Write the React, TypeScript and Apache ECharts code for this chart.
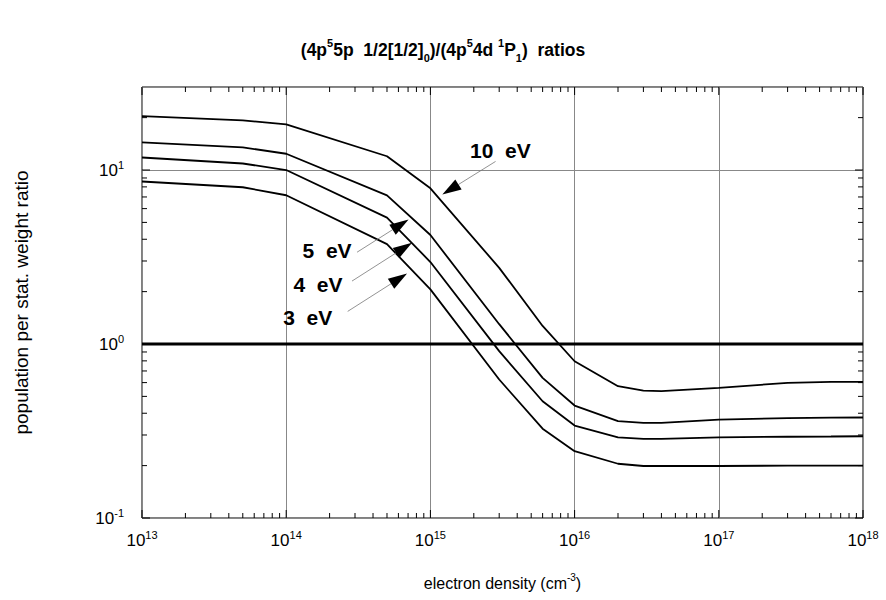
import React, { useEffect, useRef } from 'react';
import * as echarts from 'echarts';

// electron density (cm^-3)
const density = [1e13, 5e13, 1e14, 5e14, 1e15, 3e15, 6e15, 1e16, 2e16, 3e16, 4e16, 1e17, 3e17, 6e17, 1e18];
// population per stat. weight ratio for each temperature
const ratio10eV = [20.4, 19.3, 18.3, 12.0, 7.85, 2.74, 1.27, 0.796, 0.572, 0.540, 0.536, 0.560, 0.598, 0.606, 0.606];
const ratio5eV = [14.4, 13.5, 12.4, 7.15, 4.23, 1.30, 0.639, 0.443, 0.360, 0.352, 0.352, 0.368, 0.375, 0.377, 0.378];
const ratio4eV = [11.8, 10.9, 10.0, 5.33, 2.96, 0.91, 0.469, 0.340, 0.291, 0.285, 0.285, 0.291, 0.293, 0.294, 0.295];
const ratio3eV = [8.59, 7.96, 7.16, 3.75, 2.06, 0.625, 0.326, 0.242, 0.205, 0.199, 0.199, 0.199, 0.200, 0.200, 0.200];
const seriesNames = ['10 eV', '5 eV', '4 eV', '3 eV'];
const referenceRatio = 1;

const xRange = [1e13, 1e18];
const yRange = [0.1, 30];
const xDecades = [13, 14, 15, 16, 17, 18];
const yDecades = [-1, 0, 1];
const minorMultipliers = [2, 3, 4, 5, 6, 7, 8, 9];

// annotation label / arrow anchors in data coordinates
const annotationLabels = ['10  eV', '5  eV', '4  eV', '3  eV'];
const annotationText = [[3.06e15, 12.9], [1.92e14, 3.45], [1.66e14, 2.2], [1.41e14, 1.42]];
const annotationFrom = [[2.83e15, 11.2], [3.1e14, 3.37], [2.86e14, 2.3], [2.67e14, 1.54]];
const annotationTo = [[1.21e15, 7.23], [7.06e14, 5.19], [7.46e14, 3.82], [6.89e14, 2.54]];

const FONT = '"Liberation Sans", Arial, Helvetica, sans-serif';

export default function App() {
  const ref = useRef<HTMLDivElement>(null);
  useEffect(() => {
    if (!ref.current) return;
    const chart = echarts.init(ref.current, undefined, { renderer: 'svg' });
    const allRatios = [ratio10eV, ratio5eV, ratio4eV, ratio3eV];
    const supLabel = (v: number) => {
      const e = Math.round(Math.log10(v));
      return `{b|10}{s|${e}}`;
    };
    const labelRich = {
      b: { fontSize: 17, fontFamily: FONT, color: '#000', lineHeight: 22 },
      s: { fontSize: 11, fontFamily: FONT, color: '#000', lineHeight: 11, verticalAlign: 'top' },
    };
    chart.setOption({
      animation: false,
      backgroundColor: '#fff',
      title: {
        text: '{n|(4p}{sup|5}{n|5p  1/2[1/2]}{sub|0}{n|)/(4p}{sup|5}{n|4d }{sup|1}{n|P}{sub|1}{n|)  ratios}',
        left: 'center',
        top: 32,
        textStyle: {
          fontSize: 17.5,
          fontWeight: 'bold',
          fontFamily: FONT,
          color: '#000',
          rich: {
            n: { fontSize: 17.5, fontWeight: 'bold', fontFamily: FONT, color: '#000', lineHeight: 26 },
            sup: { fontSize: 11, fontWeight: 'bold', fontFamily: FONT, color: '#000', lineHeight: 11, verticalAlign: 'top' },
            sub: { fontSize: 11, fontWeight: 'bold', fontFamily: FONT, color: '#000', lineHeight: 11, verticalAlign: 'bottom' },
          },
        },
      },
      grid: { left: 142, right: 23, top: 87, bottom: 82, show: true, borderColor: '#000', borderWidth: 1, backgroundColor: 'transparent' },
      xAxis: {
        type: 'log',
        logBase: 10,
        min: xRange[0],
        max: xRange[1],
        axisLine: { show: false },
        axisTick: { show: false },
        splitLine: { show: true, lineStyle: { color: '#888', width: 1 } },
        axisLabel: { margin: 11, fontSize: 17, fontFamily: FONT, color: '#000', formatter: supLabel, rich: labelRich },
        name: '{n|electron density (cm}{s|-3}{n|)}',
        nameLocation: 'middle',
        nameGap: 54,
        nameTextStyle: {
          fontSize: 16,
          fontFamily: FONT,
          color: '#000',
          rich: {
            n: { fontSize: 16, fontFamily: FONT, color: '#000', lineHeight: 22 },
            s: { fontSize: 10, fontFamily: FONT, color: '#000', lineHeight: 10, verticalAlign: 'top' },
          },
        },
      },
      yAxis: {
        type: 'log',
        logBase: 10,
        min: yRange[0],
        max: yRange[1],
        axisLine: { show: false },
        axisTick: { show: false },
        splitLine: { show: true, lineStyle: { color: '#888', width: 1 } },
        axisLabel: {
          margin: 18,
          fontSize: 17,
          fontFamily: FONT,
          color: '#000',
          formatter: (v: number) => {
            const e = Math.log10(v);
            return Math.abs(e - Math.round(e)) < 1e-6 ? supLabel(v) : '';
          },
          rich: labelRich,
        },
        name: 'population per stat. weight ratio',
        nameLocation: 'middle',
        nameGap: 111,
        nameTextStyle: { fontSize: 19, fontFamily: FONT, color: '#000' },
      },
      series: [
        ...allRatios.map((vals, i) => ({
          name: seriesNames[i],
          type: 'line',
          symbol: 'none',
          data: density.map((d, j) => [d, vals[j]]),
          lineStyle: { color: '#000', width: 1.8 },
          z: 3,
        })),
        {
          name: 'unity',
          type: 'line',
          symbol: 'none',
          data: [[xRange[0], referenceRatio], [xRange[1], referenceRatio]],
          lineStyle: { color: '#000', width: 3.2 },
          z: 4,
        },
      ],
    });

    const px = (p: number[]) => chart.convertToPixel({ xAxisIndex: 0, yAxisIndex: 0 }, p) as number[];
    const [left, bottom] = px([xRange[0], yRange[0]]);
    const [right, top] = px([xRange[1], yRange[1]]);
    const els: any[] = [];
    const tick = (x1: number, y1: number, x2: number, y2: number) =>
      els.push({ type: 'line', silent: true, z: 5, shape: { x1, y1, x2, y2 }, style: { stroke: '#000', lineWidth: 1 } });
    const MAJ = 8, MIN = 5;
    xDecades.forEach((e) => {
      const x = px([Math.pow(10, e), 1])[0];
      tick(x, bottom, x, bottom - MAJ);
      tick(x, top, x, top + MAJ);
      if (e < xDecades[xDecades.length - 1]) {
        minorMultipliers.forEach((m) => {
          const xm = px([m * Math.pow(10, e), 1])[0];
          tick(xm, bottom, xm, bottom - MIN);
          tick(xm, top, xm, top + MIN);
        });
      }
    });
    yDecades.forEach((e) => {
      const y = px([1e13, Math.pow(10, e)])[1];
      tick(left, y, left + MAJ, y);
      tick(right, y, right - MAJ, y);
      minorMultipliers.forEach((m) => {
        const v = m * Math.pow(10, e);
        if (v >= yRange[1]) return;
        const ym = px([1e13, v])[1];
        tick(left, ym, left + MIN, ym);
        tick(right, ym, right - MIN, ym);
      });
    });

    annotationLabels.forEach((label, i) => {
      const t = px(annotationText[i]);
      const a = px(annotationFrom[i]);
      const b = px(annotationTo[i]);
      const dx = b[0] - a[0], dy = b[1] - a[1];
      const len = Math.hypot(dx, dy);
      const ux = dx / len, uy = dy / len;
      const L = 19, W = 6;
      const bx = b[0] - ux * L, by = b[1] - uy * L;
      els.push({ type: 'line', silent: true, z: 6, shape: { x1: a[0], y1: a[1], x2: bx, y2: by }, style: { stroke: '#777', lineWidth: 0.8 } });
      els.push({
        type: 'polygon', silent: true, z: 6,
        shape: { points: [[b[0], b[1]], [bx - uy * W, by + ux * W], [bx + uy * W, by - ux * W]] },
        style: { fill: '#000' },
      });
      els.push({
        type: 'text', silent: true, z: 6, x: t[0], y: t[1],
        style: { text: label, font: `bold 21px ${FONT}`, fill: '#000', align: 'center', verticalAlign: 'middle' },
      });
    });
    chart.setOption({ graphic: { elements: els } });

    return () => chart.dispose();
  }, []);
  return <div ref={ref} style={{ width: 886, height: 600, position: 'absolute', left: 0, top: 0 }} />;
}
